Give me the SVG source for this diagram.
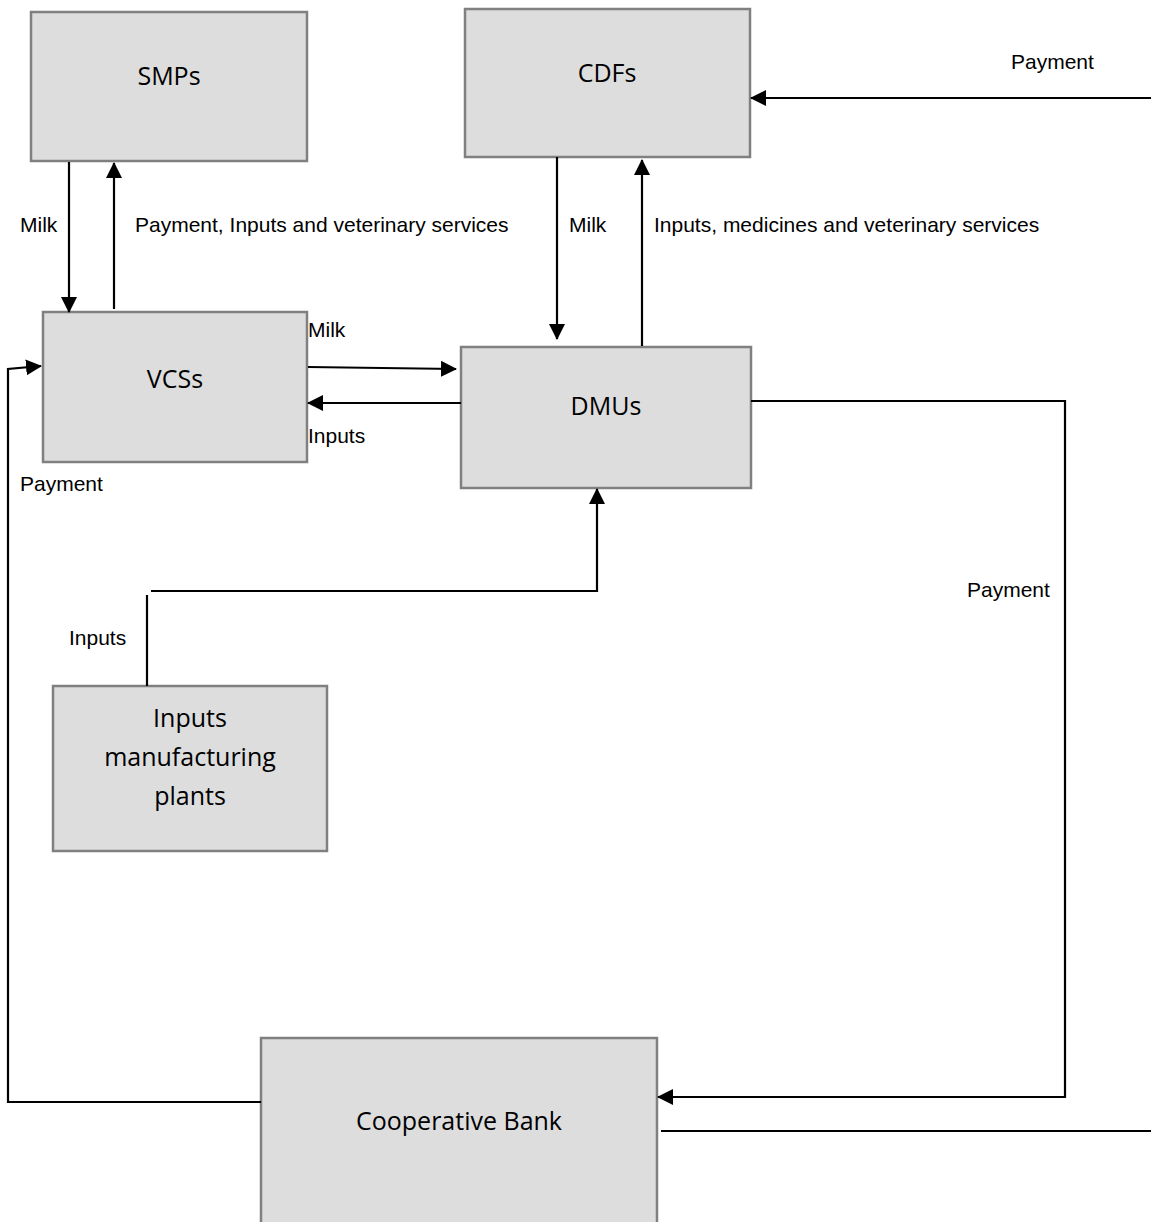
<svg xmlns="http://www.w3.org/2000/svg" width="1151" height="1222" viewBox="0 0 1151 1222">
<style>
.box{fill:#dddddd;stroke:#808080;stroke-width:2.5}
.bt{font-family:"Open Sans","Noto Sans",sans-serif;font-size:25px;fill:#000;text-anchor:middle}
.lb{font-family:"Liberation Sans",Arial,sans-serif;font-size:21px;fill:#000}
.ln{fill:none;stroke:#000;stroke-width:2.2}
.ar{marker-end:url(#ah)}
</style>
<defs>
<marker id="ah" markerWidth="16" markerHeight="16" viewBox="0 0 16 16" refX="15" refY="8" orient="auto" markerUnits="userSpaceOnUse">
<path d="M0,0 L16,8 L0,16 Z" fill="#000"/>
</marker>
</defs>
<rect width="1151" height="1222" fill="#fff"/>
<g id="smps"><rect class="box" x="31" y="12" width="276" height="149"/><text class="bt" x="169" y="85">SMPs</text></g>
<g id="cdfs"><rect class="box" x="465" y="9" width="285" height="148"/><text class="bt" x="607" y="82">CDFs</text></g>
<g id="vcss"><rect class="box" x="43" y="312" width="264" height="150"/><text class="bt" x="175" y="388">VCSs</text></g>
<g id="dmus"><rect class="box" x="461" y="347" width="290" height="141"/><text class="bt" x="606" y="415">DMUs</text></g>
<g id="inputs-plants"><rect class="box" x="53" y="686" width="274" height="165"/><text class="bt" x="190" y="727">Inputs</text><text class="bt" x="190" y="766">manufacturing</text><text class="bt" x="190" y="805">plants</text></g>
<g id="coop-bank"><rect class="box" x="261" y="1038" width="396" height="200"/><text class="bt" x="459" y="1130">Cooperative Bank</text></g>
<g id="connectors">
<path class="ln ar" d="M69,162 V312"/>
<path class="ln ar" d="M114,309 V163"/>
<path class="ln ar" d="M557,157 V339"/>
<path class="ln ar" d="M642,346 V160"/>
<path class="ln ar" d="M1151,98 H751"/>
<path class="ln ar" d="M308,367 L456,369"/>
<path class="ln ar" d="M461,403 H308"/>
<path class="ln" d="M147,686 V595"/>
<path class="ln ar" d="M151,591 H597 V489"/>
<path class="ln ar" d="M751,401 H1065 V1097 H658"/>
<path class="ln" d="M661,1131 H1151"/>
<path class="ln ar" d="M261,1102 H8 V369 L41,366"/>
</g>
<g id="labels">
<text class="lb" x="20" y="232">Milk</text>
<text class="lb" x="135" y="232">Payment, Inputs and veterinary services</text>
<text class="lb" x="569" y="232">Milk</text>
<text class="lb" x="654" y="232">Inputs, medicines and veterinary services</text>
<text class="lb" x="1011" y="69">Payment</text>
<text class="lb" x="308" y="337">Milk</text>
<text class="lb" x="308" y="443">Inputs</text>
<text class="lb" x="20" y="491">Payment</text>
<text class="lb" x="69" y="645">Inputs</text>
<text class="lb" x="967" y="597">Payment</text>
</g>
</svg>
